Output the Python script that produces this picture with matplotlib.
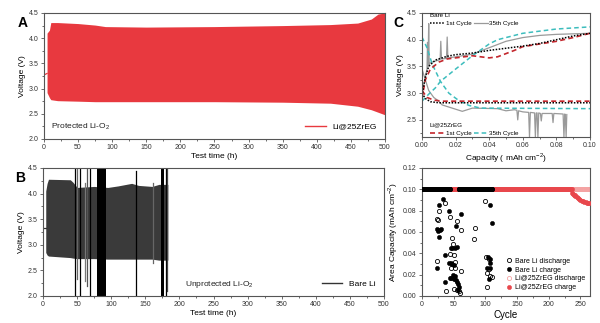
import numpy as np
import matplotlib
matplotlib.use('Agg')
from matplotlib import pyplot as plt
from matplotlib.lines import Line2D

plt.rcParams['font.family'] = ['Liberation Sans', 'DejaVu Sans']
plt.rcParams['mathtext.fontset'] = 'custom'
plt.rcParams['mathtext.rm'] = 'Liberation Sans'

# ---- panel A: protected cell, voltage envelope (h, V)
a_ocv_time = [0, 4.5]
a_ocv_v = [3.27, 3.3]
a_time = [4.5, 8, 10, 20, 50, 75, 90, 150, 250, 350, 420, 460, 480, 490, 500]
a_upper = [4.1, 4.16, 4.31, 4.31, 4.29, 4.26, 4.23, 4.22, 4.23, 4.25, 4.27, 4.3, 4.38, 4.48, 4.5]
a_lower = [2.92, 2.82, 2.78, 2.76, 2.75, 2.74, 2.74, 2.74, 2.74, 2.73, 2.71, 2.65, 2.58, 2.53, 2.48]

# ---- panel B: unprotected cell
b_ocv_time = [0, 4]
b_ocv_v = [3.32, 3.32]
b_time = [4, 6, 8, 40, 44, 50, 75, 95, 110, 130, 140, 160, 170, 183]
b_upper = [4.05, 4.2, 4.28, 4.27, 4.22, 4.12, 4.14, 4.12, 4.15, 4.2, 4.16, 4.14, 4.18, 4.18]
b_lower = [2.85, 2.8, 2.78, 2.75, 2.74, 2.73, 2.73, 2.72, 2.72, 2.72, 2.72, 2.72, 2.7, 2.7]
b_spike_t = [47.5, 50.5, 53.5, 62, 64.5, 69.5, 136.5, 161, 180.5, 182.5]
b_spike_lo = [2.0, 2.33, 2.0, 2.3, 2.2, 2.0, 2.0, 2.65, 2.0, 2.1]
b_spike_hi = [4.5, 4.5, 4.5, 4.2, 4.5, 4.5, 4.45, 4.2, 4.5, 4.5]
b_spike_c = ['k', '#666', 'k', '#777', '#555', 'k', 'k', '#666', 'k', '#444']
b_block_start = [79, 172.5]
b_block_end = [93, 177.5]

# ---- panel C: voltage profiles (mAh cm-2, V)
bare1_dis_cap = [0, 0.002, 0.005, 0.01, 0.03, 0.1]
bare1_dis_v = [3.0, 2.9, 2.84, 2.82, 2.82, 2.82]
bare1_chg_cap = [0, 0.002, 0.004, 0.008, 0.015, 0.02, 0.03, 0.04, 0.05, 0.06, 0.07, 0.08, 0.09, 0.1]
bare1_chg_v = [2.95, 3.3, 3.5, 3.62, 3.69, 3.72, 3.75, 3.8, 3.84, 3.88, 3.93, 4.0, 4.07, 4.12]

bare35_dis_cap = [0, 0.002, 0.004, 0.007, 0.01, 0.012, 0.018, 0.022, 0.024, 0.026, 0.03, 0.045,
                  0.05, 0.055, 0.0565, 0.057, 0.0575, 0.06, 0.0635, 0.064, 0.0645, 0.067, 0.0675,
                  0.068, 0.0685, 0.069, 0.0695, 0.0705, 0.071, 0.0715, 0.0775, 0.078, 0.0785,
                  0.084, 0.0845, 0.085, 0.0853, 0.0858, 0.0862]
bare35_dis_v = [3.45, 3.25, 3.05, 2.92, 2.85, 2.78, 2.72, 2.68, 2.66, 2.68, 2.72, 2.71,
                2.67, 2.69, 2.68, 2.5, 2.67, 2.65, 2.64, 2.18, 2.64, 2.63, 2.18,
                2.63, 2.63, 2.18, 2.63, 2.62, 2.48, 2.62, 2.62, 2.45, 2.62,
                2.61, 2.18, 2.61, 2.6, 2.18, 2.6]
bare35_chg_cap = [0, 0.002, 0.003, 0.0033, 0.0036, 0.004, 0.0043, 0.0046, 0.006, 0.01, 0.0108,
                  0.0112, 0.0116, 0.0146, 0.015, 0.0154, 0.02, 0.03, 0.04, 0.05, 0.06, 0.07, 0.08, 0.1]
bare35_chg_v = [3.0, 3.3, 3.45, 3.95, 3.5, 4.3, 3.52, 3.56, 3.58, 3.62, 3.63,
                3.97, 3.64, 3.65, 4.05, 3.66, 3.68, 3.73, 3.85, 3.97, 4.04, 4.08, 4.1, 4.12]

zr1_dis_cap = [0, 0.003, 0.007, 0.012, 0.1]
zr1_dis_v = [3.05, 2.92, 2.87, 2.85, 2.85]
zr1_chg_cap = [0, 0.002, 0.005, 0.01, 0.015, 0.02, 0.03, 0.04, 0.045, 0.05, 0.055, 0.06, 0.07, 0.08, 0.09, 0.1]
zr1_chg_v = [2.9, 3.25, 3.45, 3.58, 3.64, 3.66, 3.7, 3.66, 3.68, 3.74, 3.8, 3.87, 3.92, 3.97, 4.04, 4.12]

zr35_dis_cap = [0, 0.003, 0.006, 0.011, 0.016, 0.022, 0.028, 0.035, 0.1]
zr35_dis_v = [4.05, 3.85, 3.55, 3.22, 3.0, 2.86, 2.77, 2.72, 2.71]
zr35_chg_cap = [0, 0.004, 0.008, 0.011, 0.02, 0.03, 0.04, 0.045, 0.05, 0.06, 0.08, 0.1]
zr35_chg_v = [2.85, 2.98, 3.1, 3.22, 3.45, 3.7, 3.92, 4.0, 4.04, 4.12, 4.2, 4.24]

# ---- panel D: area capacity vs cycle
bare_full_runs = [(1, 44), (58, 110)]
bare_dis_cycle = [23, 25, 24, 27, 36, 44, 56, 61, 48, 49, 44, 45, 52, 61, 38, 59, 60, 55, 50, 52, 50,
                  83, 82, 100, 101, 103, 102, 108, 105, 106, 110]
bare_dis_cap = [0.033, 0.071, 0.072, 0.080, 0.087, 0.074, 0.070, 0.062, 0.054, 0.049, 0.039, 0.026,
                0.026, 0.0235, 0.005, 0.005, 0.003, 0.006, 0.007, 0.032, 0.038,
                0.0635, 0.053, 0.089, 0.037, 0.022, 0.0085, 0.019, 0.035, 0.025, 0.018]
bare_chg_cycle = [33, 27, 43, 62, 53, 24, 26, 28, 30, 27, 45, 48, 52, 55, 36, 23, 43, 46, 48, 51,
                  49, 52, 36, 44, 46, 51, 53, 55, 57, 58, 57,
                  108, 110, 104, 107, 103, 107, 106, 107]
bare_chg_cap = [0.091, 0.085, 0.080, 0.077, 0.066, 0.063, 0.061, 0.062, 0.063, 0.055, 0.045, 0.045,
                0.045, 0.046, 0.038, 0.026, 0.031, 0.031, 0.030, 0.029,
                0.020, 0.019, 0.013, 0.017, 0.017, 0.016, 0.015, 0.013, 0.011, 0.008, 0.006,
                0.085, 0.068, 0.037, 0.035, 0.026, 0.026, 0.016, 0.031]
zr_dis_runs = [(1, 265)]
zr_chg_runs = [(1, 236)]
zr_chg_tail_cycle = [237, 238, 240, 241, 242, 244, 246, 248, 250, 252, 254, 256, 258, 260, 262, 264]
zr_chg_tail_cap = [0.097, 0.096, 0.095, 0.095, 0.094, 0.093, 0.092, 0.091, 0.090, 0.089, 0.089,
                   0.088, 0.088, 0.087, 0.087, 0.087]
full_cap = 0.10

red = '#e8393f'
spine_c = '#555555'
tick_fs = 5
label_fs = 6

fig = plt.figure(figsize=(6.0, 3.23), dpi=100)
axA = fig.add_axes([0.0733, 0.5697, 0.5683, 0.3901])
axB = fig.add_axes([0.0717, 0.0836, 0.5683, 0.3963])
axC = fig.add_axes([0.7033, 0.5759, 0.28, 0.3839])
axD = fig.add_axes([0.7033, 0.0836, 0.28, 0.3963])


def style(ax):
    for s in ax.spines.values():
        s.set_color(spine_c)
        s.set_linewidth(0.8)
    ax.tick_params(which='both', direction='out', labelsize=tick_fs, colors=spine_c,
                   labelcolor='#333333', width=0.6, pad=1.5)
    ax.tick_params(which='major', length=2.2)
    ax.tick_params(which='minor', length=1.2)


# A
axA.plot(a_ocv_time, a_ocv_v, color=red, lw=0.9)
axA.fill_between(a_time, a_lower, a_upper, color=red, lw=0)
axA.set_xlim(0, 500)
axA.set_ylim(2.0, 4.5)
axA.set_xticks(np.arange(0, 501, 50))
axA.set_xticks(np.arange(25, 500, 50), minor=True)
axA.set_yticks(np.arange(2.0, 4.51, 0.5))
axA.set_yticks(np.arange(2.25, 4.5, 0.5), minor=True)
axA.set_xlabel('Test time (h)', fontsize=label_fs, labelpad=1)
axA.set_ylabel('Voltage (V)', fontsize=label_fs, labelpad=2)
axA.text(0.02, 0.08, 'Protected Li-O$_2$', transform=axA.transAxes, fontsize=6, color='#222')
axA.legend(handles=[Line2D([], [], color=red, lw=1)], labels=['Li@25ZrEG'], loc='lower right',
           frameon=False, fontsize=6, handlelength=2.5, borderaxespad=0.6)
style(axA)
fig.text(0.03, 0.915, 'A', fontsize=10, fontweight='bold')

# B
axB.plot(b_ocv_time, b_ocv_v, color='#333', lw=0.9)
axB.fill_between(b_time, b_lower, b_upper, color='#3a3a3a', lw=0)
for t, lo, hi, c in zip(b_spike_t, b_spike_lo, b_spike_hi, b_spike_c):
    axB.plot([t, t], [lo, hi], color=c, lw=0.9)
for t0, t1 in zip(b_block_start, b_block_end):
    axB.fill_between([t0, t1], [2.0, 2.0], [4.5, 4.5], color='k', lw=0)
axB.set_xlim(0, 500)
axB.set_ylim(2.0, 4.5)
axB.set_xticks(np.arange(0, 501, 50))
axB.set_xticks(np.arange(25, 500, 50), minor=True)
axB.set_yticks(np.arange(2.0, 4.51, 0.5))
axB.set_yticks(np.arange(2.25, 4.5, 0.5), minor=True)
axB.set_xlabel('Test time (h)', fontsize=label_fs, labelpad=1)
axB.set_ylabel('Voltage (V)', fontsize=label_fs, labelpad=2)
axB.text(0.415, 0.08, 'Unprotected Li-O$_2$', transform=axB.transAxes, fontsize=6, color='#222')
axB.legend(handles=[Line2D([], [], color='#333', lw=1)], labels=['Bare Li'], loc='lower right',
           frameon=False, fontsize=6, handlelength=2.5, borderaxespad=0.6)
style(axB)
fig.text(0.025, 0.435, 'B', fontsize=10, fontweight='bold')

# C
cyan = '#3dbdbd'
dred = '#c3262c'
axC.plot(bare35_dis_cap, bare35_dis_v, color='#9a9a9a', lw=0.9)
axC.plot(bare35_chg_cap, bare35_chg_v, color='#9a9a9a', lw=0.9)
axC.plot(zr35_dis_cap, zr35_dis_v, color=cyan, lw=1.1, ls=(0, (3, 2)))
axC.plot(zr35_chg_cap, zr35_chg_v, color=cyan, lw=1.1, ls=(0, (3, 2)))
axC.plot(zr1_dis_cap, zr1_dis_v, color=dred, lw=1.2, ls=(0, (3, 2)))
axC.plot(zr1_chg_cap, zr1_chg_v, color=dred, lw=1.2, ls=(0, (3, 2)))
axC.plot(bare1_dis_cap, bare1_dis_v, color='k', lw=1.1, ls=(0, (1, 1)))
axC.plot(bare1_chg_cap, bare1_chg_v, color='k', lw=1.1, ls=(0, (1, 1)))
axC.set_xlim(0, 0.10)
axC.set_ylim(2.18, 4.5)
axC.set_xticks(np.arange(0, 0.101, 0.02))
axC.set_xticklabels(['0.00', '0.02', '0.04', '0.06', '0.08', '0.10'])
axC.set_xticks(np.arange(0.01, 0.1, 0.02), minor=True)
axC.set_yticks(np.arange(2.5, 4.51, 0.5))
axC.set_yticks(np.arange(2.25, 4.5, 0.5), minor=True)
axC.set_xlabel('Capacity ( mAh cm$^{-2}$)', fontsize=label_fs, labelpad=1)
axC.set_ylabel('Voltage (V)', fontsize=label_fs, labelpad=2)
leg1 = axC.legend(handles=[Line2D([], [], color='k', lw=1.1, ls=(0, (1, 1))),
                           Line2D([], [], color='#9a9a9a', lw=0.9)],
                  labels=['1st Cycle', '35th Cycle'], ncol=2, title='Bare Li', title_fontsize=4.5,
                  loc='upper left', bbox_to_anchor=(0.04, 1.01), frameon=False, fontsize=4.5,
                  handlelength=2.2, handletextpad=0.3, columnspacing=0.4, borderaxespad=0,
                  alignment='left', borderpad=0.2)
axC.add_artist(leg1)
axC.legend(handles=[Line2D([], [], color=dred, lw=1.2, ls=(0, (3, 2))),
                    Line2D([], [], color=cyan, lw=1.1, ls=(0, (3, 2)))],
           labels=['1st Cycle', '35th Cycle'], ncol=2, title='Li@25ZrEG', title_fontsize=4.5,
           loc='lower left', bbox_to_anchor=(0.04, 0.0), frameon=False, fontsize=4.5,
           handlelength=2.2, handletextpad=0.3, columnspacing=0.4, borderaxespad=0,
           alignment='left', borderpad=0.2)
style(axC)
fig.text(0.655, 0.915, 'C', fontsize=10, fontweight='bold')


def expand(runs):
    out = []
    for a, b in runs:
        out.extend(range(a, b + 1))
    return out


zr_dis_c = expand(zr_dis_runs)
zr_chg_c = expand(zr_chg_runs) + zr_chg_tail_cycle
zr_chg_v = [full_cap] * len(expand(zr_chg_runs)) + zr_chg_tail_cap
bare_full = expand(bare_full_runs)
ms = 3
axD.plot(zr_dis_c, [full_cap] * len(zr_dis_c), ls='none', marker='o', ms=ms, mfc='none',
         mec='#f4a3a3', mew=0.6, label='Li@25ZrEG discharge', zorder=2)
axD.plot(zr_chg_c, zr_chg_v, ls='none', marker='o', ms=ms, mfc='#e8474c', mec='#e8474c', mew=0.4,
         label='Li@25ZrEG charge', zorder=3)
axD.plot(bare_full + bare_dis_cycle, [full_cap] * len(bare_full) + bare_dis_cap, ls='none', marker='o',
         ms=ms, mfc='none', mec='k', mew=0.6, label='Bare Li discharge', zorder=4)
axD.plot(bare_full + bare_chg_cycle, [full_cap] * len(bare_full) + bare_chg_cap, ls='none', marker='o',
         ms=ms, mfc='k', mec='k', mew=0.4, label='Bare Li charge', zorder=5)
axD.set_xlim(0, 265)
axD.set_ylim(0, 0.12)
axD.set_xticks(np.arange(0, 251, 50))
axD.set_xticks(np.arange(25, 265, 50), minor=True)
axD.set_yticks(np.arange(0, 0.121, 0.02))
axD.set_yticklabels(['0.00', '0.02', '0.04', '0.06', '0.08', '0.10', '0.12'])
axD.set_yticks(np.arange(0.01, 0.12, 0.02), minor=True)
axD.set_xlabel('Cycle', fontsize=7, labelpad=1)
axD.set_ylabel('Area Capacity (mAh cm$^{-2}$)', fontsize=label_fs, labelpad=2)
h, l = axD.get_legend_handles_labels()
order = [2, 3, 0, 1]
axD.legend([h[i] for i in order], [l[i] for i in order], loc='lower right', frameon=False,
           fontsize=5, handletextpad=0.3, labelspacing=0.25, borderaxespad=0.3, handlelength=1.2)
style(axD)

fig.savefig('out.png', dpi=100, facecolor='white')
